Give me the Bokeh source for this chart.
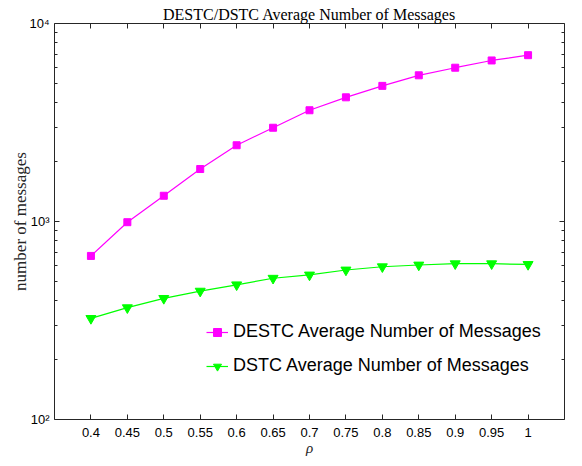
from bokeh.plotting import figure
from bokeh.models import (Range1d, FixedTicker, LinearAxis, LogAxis, Legend,
                          LegendItem, CustomJSTickFormatter)
from bokeh.embed import file_html
from bokeh.resources import INLINE

rho = [0.4, 0.45, 0.5, 0.55, 0.6, 0.65, 0.7, 0.75, 0.8, 0.85, 0.9, 0.95, 1.0]
destc = [670, 992, 1349, 1841, 2427, 2975, 3646, 4238, 4842, 5475, 5980, 6506, 6918]
dstc = [324, 367, 409, 445, 479, 517, 537, 569, 591, 603, 612, 612, 607]
x_tick_labels = ["0.4", "0.45", "0.5", "0.55", "0.6", "0.65", "0.7", "0.75",
                 "0.8", "0.85", "0.9", "0.95", "1"]
y_ticks = [100, 1000, 10000]
y_tick_labels = ["10\u00b2", "10\u00b3", "10\u2074"]
y_minor = [200, 300, 400, 500, 600, 700, 800, 900,
           2000, 3000, 4000, 5000, 6000, 7000, 8000, 9000]

AX = "#262626"
SANS = "Liberation Sans"
SERIF = "Liberation Serif"

p = figure(width=566, height=458, x_range=Range1d(0.35, 1.05),
           y_range=Range1d(100, 10000), y_axis_type="log",
           output_backend="svg", toolbar_location=None,
           min_border_left=54, min_border_right=2, min_border_top=23,
           min_border_bottom=38, x_axis_location=None, y_axis_location=None)
p.grid.visible = False
p.outline_line_color = AX
p.outline_line_width = 1
p.background_fill_color = "white"
p.border_fill_color = "white"

p.title.text = "DESTC/DSTC Average Number of Messages"
p.title.align = "center"
p.title.text_font = SERIF
p.title.text_font_style = "normal"
p.title.text_font_size = "16px"
p.title.text_color = "black"
p.title.standoff = 1

xt = FixedTicker(ticks=rho)
yt = FixedTicker(ticks=y_ticks, minor_ticks=y_minor)

xaxis = LinearAxis(ticker=xt, axis_label="\u03c1")
xaxis.major_label_overrides = {v: s for v, s in zip(rho, x_tick_labels)}
yaxis = LogAxis(ticker=yt, axis_label="number of messages")
yaxis.major_label_overrides = {v: s for v, s in zip(y_ticks, y_tick_labels)}

for ax in (xaxis, yaxis):
    ax.axis_line_color = None
    ax.major_tick_in = 5
    ax.major_tick_out = 0
    ax.minor_tick_in = 3
    ax.minor_tick_out = 0
    ax.major_tick_line_color = AX
    ax.minor_tick_line_color = AX
    ax.major_label_text_font = SANS
    ax.major_label_text_font_size = "13px"
    ax.major_label_text_color = "black"
    ax.axis_label_text_font = SERIF
    ax.axis_label_text_font_size = "17px"
    ax.axis_label_text_color = "#262626"
    ax.axis_label_text_font_style = "normal"
xaxis.axis_label_text_font_style = "italic"
xaxis.axis_label_text_font_size = "15px"
xaxis.major_label_text_line_height = 1.0
xaxis.axis_label_text_line_height = 0.8
xaxis.major_label_standoff = 8
xaxis.axis_label_standoff = 0
yaxis.major_label_standoff = 5
yaxis.axis_label_standoff = -4
p.add_layout(xaxis, "below")
p.add_layout(yaxis, "left")

blank = CustomJSTickFormatter(code="return '';")
xtop = LinearAxis(ticker=xt, formatter=blank)
yright = LogAxis(ticker=yt, formatter=blank)
for ax in (xtop, yright):
    ax.axis_line_color = None
    ax.major_tick_in = 5
    ax.major_tick_out = 0
    ax.minor_tick_in = 3
    ax.minor_tick_out = 0
    ax.major_tick_line_color = AX
    ax.minor_tick_line_color = AX
    ax.major_label_standoff = 0
p.add_layout(xtop, "above")
p.add_layout(yright, "right")

l1 = p.line(rho, destc, line_color="#ff00ff", line_width=1.2)
m1 = p.scatter(rho, destc, marker="square", size=7, fill_color="#ff00ff",
               line_color="#ff00ff")
l2 = p.line(rho, dstc, line_color="#00ff00", line_width=1.2)
m2 = p.scatter(rho, dstc, marker="inverted_triangle", size=10,
               fill_color="#00ff00", line_color="#00ff00")

legend = Legend(items=[
    LegendItem(label="DESTC Average Number of Messages", renderers=[l1, m1]),
    LegendItem(label="DSTC Average Number of Messages", renderers=[l2, m2]),
], location=(152, 43))
legend.border_line_color = None
legend.background_fill_alpha = 0
legend.padding = 0
legend.margin = 0
legend.spacing = 13
legend.glyph_width = 22
legend.glyph_height = 20
legend.label_height = 20
legend.label_standoff = 5
legend.label_text_font = SANS
legend.label_text_font_size = "18px"
legend.label_text_color = "black"
p.add_layout(legend, "center")

open("out.html", "w").write(file_html(p, INLINE))
